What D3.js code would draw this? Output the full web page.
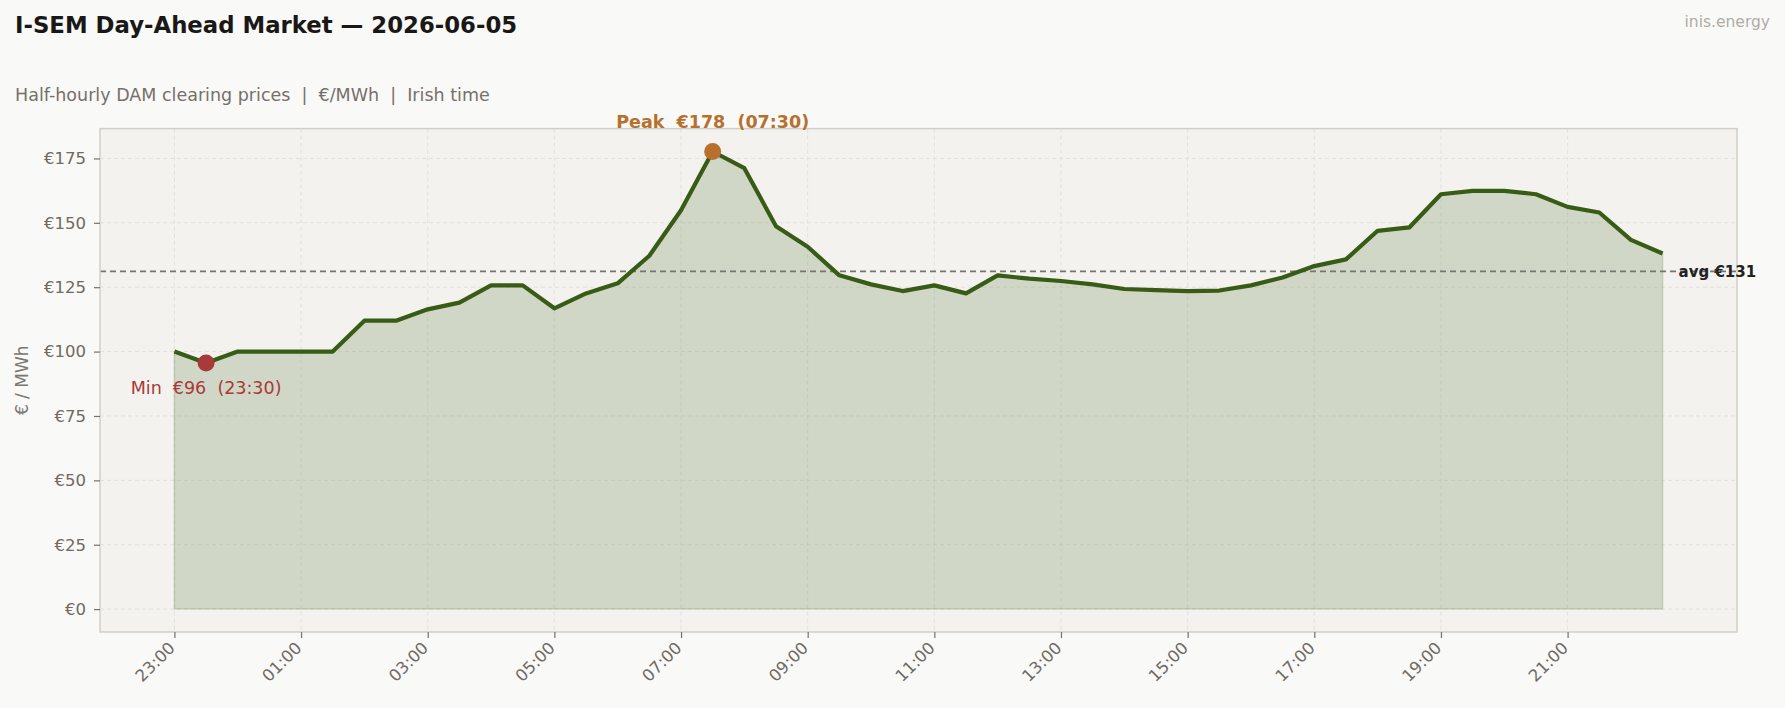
<!DOCTYPE html>
<html>
<head>
<meta charset="utf-8">
<script src="https://cdn.jsdelivr.net/npm/d3@7"></script>
<style>
  html, body { margin: 0; padding: 0; background: #f9f9f7; }
  svg { display: block; font-family: "DejaVu Sans", sans-serif; }
  text { white-space: pre; }
</style>
</head>
<body>
<div id="chart"></div>
<script>
// Half-hourly slots (Irish time) and DAM clearing prices, €/MWh
const times = [
  "23:00", "23:30", "00:00", "00:30", "01:00", "01:30", "02:00", "02:30",
  "03:00", "03:30", "04:00", "04:30", "05:00", "05:30", "06:00", "06:30",
  "07:00", "07:30", "08:00", "08:30", "09:00", "09:30", "10:00", "10:30",
  "11:00", "11:30", "12:00", "12:30", "13:00", "13:30", "14:00", "14:30",
  "15:00", "15:30", "16:00", "16:30", "17:00", "17:30", "18:00", "18:30",
  "19:00", "19:30", "20:00", "20:30", "21:00", "21:30", "22:00", "22:30"
];
const prices = [
  100.0, 95.6, 100.0, 100.0, 100.0, 100.0, 112.0, 112.0,
  116.4, 119.0, 125.7, 125.7, 116.8, 122.6, 126.5, 137.2,
  154.9, 177.7, 171.2, 148.7, 140.7, 129.6, 126.1, 123.5,
  125.7, 122.6, 129.6, 128.3, 127.4, 126.1, 124.3, 123.9,
  123.5, 123.7, 125.7, 128.8, 133.2, 135.8, 146.9, 148.2,
  161.1, 162.4, 162.4, 161.1, 156.2, 154.0, 143.4, 138.1
];
const xTickLabels = ["23:00", "01:00", "03:00", "05:00", "07:00", "09:00",
                     "11:00", "13:00", "15:00", "17:00", "19:00", "21:00"];
const yTicks = [0, 25, 50, 75, 100, 125, 150, 175];

const W = 1785, H = 708;
const plot = { left: 100, right: 1737, top: 128.6, bottom: 632 };

const svg = d3.select("#chart").append("svg")
  .attr("width", W).attr("height", H);

svg.append("rect").attr("width", W).attr("height", H).attr("fill", "#f9f9f7");

// Scales (5% margins like the original)
const n = prices.length - 1;
const x = d3.scaleLinear()
  .domain([-0.05 * n, n * 1.05])
  .range([plot.left, plot.right]);
const yMax = d3.max(prices);
const y = d3.scaleLinear()
  .domain([-0.05 * yMax, yMax * 1.05])
  .range([plot.bottom, plot.top]);

// Plot background
svg.append("rect")
  .attr("x", plot.left).attr("y", plot.top)
  .attr("width", plot.right - plot.left).attr("height", plot.bottom - plot.top)
  .attr("fill", "#f3f2ee");

// Grid
const xTickIdx = xTickLabels.map(t => times.indexOf(t));
const grid = svg.append("g");
grid.selectAll("line.gx").data(xTickIdx).enter().append("line")
  .attr("x1", d => x(d)).attr("x2", d => x(d))
  .attr("y1", plot.top).attr("y2", plot.bottom)
  .attr("stroke", "#e3e1dc").attr("stroke-width", 1).attr("stroke-dasharray", "4,3");
grid.selectAll("line.gy").data(yTicks).enter().append("line")
  .attr("x1", plot.left).attr("x2", plot.right)
  .attr("y1", d => y(d)).attr("y2", d => y(d))
  .attr("stroke", "#e3e1dc").attr("stroke-width", 1).attr("stroke-dasharray", "4,3");

// Area under curve
const area = d3.area()
  .x((d, i) => x(i))
  .y0(y(0))
  .y1(d => y(d));
svg.append("path")
  .attr("d", area(prices) + "Z")
  .attr("fill", "#4a6e28").attr("fill-opacity", 0.2)
  .attr("stroke", "#4a6e28").attr("stroke-opacity", 0.2).attr("stroke-width", 1.5);

// Average line
const avg = d3.mean(prices);
svg.append("line")
  .attr("x1", plot.left).attr("x2", plot.right)
  .attr("y1", y(avg)).attr("y2", y(avg))
  .attr("stroke", "#777570").attr("stroke-width", 1.6).attr("stroke-dasharray", "6,4");

// Price line
const line = d3.line().x((d, i) => x(i)).y(d => y(d));
svg.append("path")
  .datum(prices)
  .attr("d", line)
  .attr("fill", "none")
  .attr("stroke", "#385c16").attr("stroke-width", 4.2)
  .attr("stroke-linejoin", "round");

// Frame
svg.append("rect")
  .attr("x", plot.left).attr("y", plot.top)
  .attr("width", plot.right - plot.left).attr("height", plot.bottom - plot.top)
  .attr("fill", "none").attr("stroke", "#d3cfc8").attr("stroke-width", 1.5);

// Axes
const xAxis = svg.append("g")
  .attr("transform", `translate(0,${plot.bottom})`)
  .call(d3.axisBottom(x).tickValues(xTickIdx)
    .tickFormat(d => times[d]).tickSize(6).tickPadding(6));
xAxis.select(".domain").remove();
xAxis.selectAll(".tick line").attr("stroke", "#77726c").attr("stroke-width", 1.2);
xAxis.selectAll(".tick text")
  .attr("fill", "#6f6a64")
  .style("font-size", "16.5px")
  .style("font-family", "DejaVu Sans")
  .attr("text-anchor", "end")
  .attr("dy", "0.35em")
  .attr("transform", "translate(-3,13) rotate(-45)")
  .attr("y", 0).attr("x", 0);

const yAxis = svg.append("g")
  .attr("transform", `translate(${plot.left},0)`)
  .call(d3.axisLeft(y).tickValues(yTicks)
    .tickFormat(d => "€" + d).tickSize(6).tickPadding(8));
yAxis.select(".domain").remove();
yAxis.selectAll(".tick line").attr("stroke", "#77726c").attr("stroke-width", 1.2);
yAxis.selectAll(".tick text")
  .attr("fill", "#6f6a64")
  .style("font-size", "16.5px")
  .style("font-family", "DejaVu Sans");

svg.append("text")
  .attr("transform", `translate(28,${(plot.top + plot.bottom) / 2}) rotate(-90)`)
  .attr("text-anchor", "middle")
  .attr("fill", "#7a7670")
  .style("font-size", "17px")
  .text("€ / MWh");

// Peak and min markers
const iMax = d3.maxIndex(prices), iMin = d3.minIndex(prices);
svg.append("circle")
  .attr("cx", x(iMax)).attr("cy", y(prices[iMax])).attr("r", 8.5)
  .attr("fill", "#b8702e");
svg.append("circle")
  .attr("cx", x(iMin)).attr("cy", y(prices[iMin])).attr("r", 8.5)
  .attr("fill", "#a83a3a");

svg.append("text")
  .attr("x", x(iMax)).attr("y", y(prices[iMax]) - 23)
  .attr("text-anchor", "middle")
  .attr("fill", "#b8702e")
  .style("font-size", "17.5px").style("font-weight", "bold")
  .text(`Peak  €${Math.round(prices[iMax])}  (${times[iMax]})`);

svg.append("text")
  .attr("x", x(iMin)).attr("y", y(prices[iMin]) + 31)
  .attr("text-anchor", "middle")
  .attr("fill", "#a83a3a")
  .style("font-size", "17.5px")
  .text(`Min  €${Math.round(prices[iMin])}  (${times[iMin]})`);

svg.append("text")
  .attr("x", x(n) + 16).attr("y", y(avg))
  .attr("dy", "0.35em")
  .attr("fill", "#222")
  .style("font-size", "15px").style("font-weight", "bold")
  .text(`avg €${Math.round(avg)}`);

// Titles
svg.append("text")
  .attr("x", 15).attr("y", 33)
  .attr("fill", "#1a1816")
  .style("font-size", "22.8px").style("font-weight", "bold")
  .text("I-SEM Day-Ahead Market — 2026-06-05");

svg.append("text")
  .attr("x", 15).attr("y", 101)
  .attr("fill", "#75706a")
  .style("font-size", "17.5px")
  .text("Half-hourly DAM clearing prices  |  €/MWh  |  Irish time");

svg.append("text")
  .attr("x", 1770).attr("y", 27)
  .attr("text-anchor", "end")
  .attr("fill", "#b0aca6")
  .style("font-size", "15.5px")
  .text("inis.energy");
</script>
</body>
</html>
